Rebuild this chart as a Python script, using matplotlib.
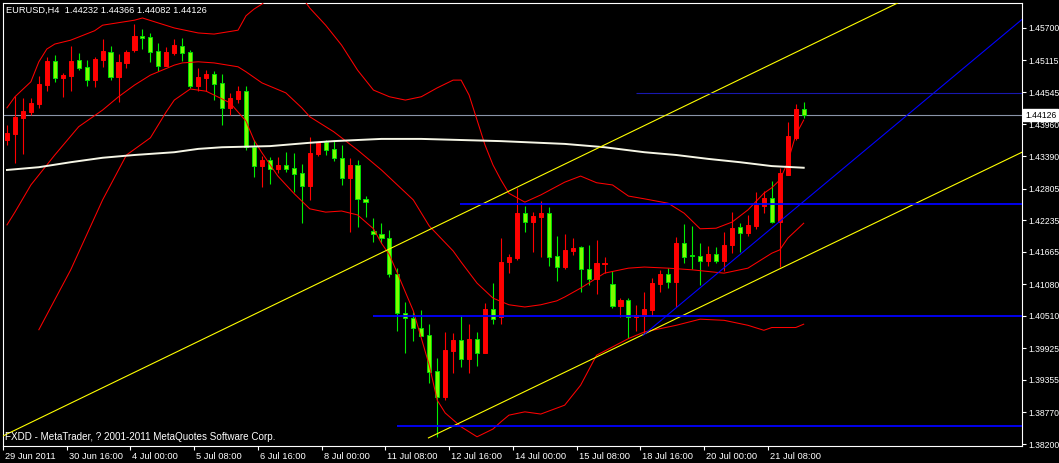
import matplotlib
matplotlib.use("Agg")
import matplotlib.pyplot as plt
import matplotlib.transforms as mtransforms
import numpy as np

# ---------------- data ----------------
header_text = "EURUSD,H4  1.44232 1.44366 1.44082 1.44126"
footer_text = "FXDD - MetaTrader, ? 2001-2011 MetaQuotes Software Corp."

opens = [1.4368, 1.4379, 1.4408, 1.4419, 1.4433, 1.4467, 1.4510, 1.4480, 1.4483, 1.4512,
         1.4500, 1.4476, 1.4512, 1.4527, 1.4482, 1.4507, 1.4530, 1.4556, 1.4554, 1.4528,
         1.4501, 1.4525, 1.4537, 1.4527, 1.4465, 1.4480, 1.4487, 1.4471, 1.4426, 1.4442,
         1.4456, 1.4355, 1.4321, 1.4332, 1.4316, 1.4323, 1.4318, 1.4309, 1.4285, 1.4343,
         1.4364, 1.4352, 1.4336, 1.4300, 1.4323, 1.4262, 1.4204, 1.4199, 1.4191, 1.4126,
         1.4056, 1.4047, 1.4029, 1.4016, 1.3952, 1.3905, 1.3988, 1.4007, 1.3973, 1.4009,
         1.3984, 1.4063, 1.4049, 1.4148, 1.4155, 1.4236, 1.4220, 1.4229, 1.4236, 1.4159,
         1.4139, 1.4168, 1.4175, 1.4135, 1.4117, 1.4144, 1.4108, 1.4069, 1.4080, 1.4049,
         1.4051, 1.4062, 1.4108, 1.4126, 1.4112, 1.4182, 1.4161, 1.4159, 1.4150, 1.4162,
         1.4150, 1.4179, 1.4211, 1.4200, 1.4213, 1.4249, 1.4263, 1.4220, 1.4305, 1.4372,
         1.44232]
highs = [1.4395, 1.4447, 1.4444, 1.4444, 1.4483, 1.4518, 1.4521, 1.4489, 1.4537, 1.4525,
         1.4512, 1.4518, 1.4550, 1.4537, 1.4523, 1.4530, 1.4577, 1.4568, 1.4561, 1.4543,
         1.4536, 1.4550, 1.4552, 1.4530, 1.4498, 1.4494, 1.4492, 1.4487, 1.4453, 1.4465,
         1.4465, 1.4368, 1.4339, 1.4337, 1.4337, 1.4346, 1.4345, 1.4325, 1.4373, 1.4364,
         1.4368, 1.4368, 1.4359, 1.4336, 1.4332, 1.4267, 1.4227, 1.4218, 1.4206, 1.4137,
         1.4076, 1.4058, 1.4062, 1.4036, 1.3975, 1.4022, 1.4020, 1.4052, 1.4036, 1.4022,
         1.4074, 1.4110, 1.4191, 1.4162, 1.4282, 1.4249, 1.4238, 1.4258, 1.4247, 1.4195,
         1.4199, 1.4191, 1.4177, 1.4179, 1.4188, 1.4157, 1.4132, 1.4083, 1.4083, 1.4071,
         1.4094, 1.4119, 1.4134, 1.4137, 1.4193, 1.4217, 1.4213, 1.4182, 1.4177, 1.4175,
         1.4202, 1.4238, 1.4218, 1.4233, 1.4274, 1.4276, 1.4294, 1.4318, 1.4401, 1.4433,
         1.44366]
lows = [1.4359, 1.4327, 1.4343, 1.4413, 1.4426, 1.4456, 1.4473, 1.4446, 1.4456, 1.4494,
        1.4465, 1.4464, 1.4500, 1.4476, 1.4437, 1.4498, 1.4527, 1.4532, 1.4509, 1.4492,
        1.4501, 1.4521, 1.4510, 1.4462, 1.4456, 1.4456, 1.4440, 1.4395, 1.4413, 1.4435,
        1.4350, 1.4301, 1.4283, 1.4289, 1.4309, 1.4310, 1.4274, 1.4218, 1.4260, 1.4339,
        1.4341, 1.4330, 1.4287, 1.4202, 1.4211, 1.4229, 1.4184, 1.4182, 1.4121, 1.4024,
        1.3984, 1.4006, 1.4015, 1.3930, 1.3833, 1.3899, 1.3948, 1.3959, 1.3948, 1.3961,
        1.3984, 1.4036, 1.4036, 1.4128, 1.4152, 1.4202, 1.4166, 1.4157, 1.4141, 1.4114,
        1.4135, 1.4161, 1.4094, 1.4107, 1.4090, 1.4128, 1.4065, 1.4049, 1.4011, 1.4024,
        1.4020, 1.4051, 1.4094, 1.4101, 1.4067, 1.4146, 1.4135, 1.4107, 1.4141, 1.4146,
        1.4132, 1.4164, 1.4166, 1.4195, 1.4208, 1.4236, 1.4218, 1.4139, 1.4305, 1.4368,
        1.44082]
closes = [1.4381, 1.4410, 1.4420, 1.4435, 1.4469, 1.4510, 1.4480, 1.4485, 1.4510, 1.4498,
          1.4476, 1.4514, 1.4528, 1.4482, 1.4509, 1.4527, 1.4556, 1.4552, 1.4527, 1.4501,
          1.4527, 1.4539, 1.4525, 1.4465, 1.4482, 1.4487, 1.4469, 1.4426, 1.4444, 1.4456,
          1.4355, 1.4321, 1.4332, 1.4316, 1.4323, 1.4316, 1.4307, 1.4285, 1.4345, 1.4364,
          1.4350, 1.4336, 1.4300, 1.4323, 1.4262, 1.4256, 1.4199, 1.4191, 1.4126, 1.4056,
          1.4047, 1.4029, 1.4015, 1.3950, 1.3905, 1.3989, 1.4007, 1.3973, 1.4009, 1.3984,
          1.4063, 1.4045, 1.4148, 1.4157, 1.4236, 1.4220, 1.4231, 1.4236, 1.4157, 1.4139,
          1.4170, 1.4173, 1.4135, 1.4117, 1.4146, 1.4146, 1.4069, 1.4080, 1.4049, 1.4052,
          1.4063, 1.4110, 1.4126, 1.4112, 1.4182, 1.4157, 1.4159, 1.4150, 1.4162, 1.4150,
          1.4179, 1.4209, 1.4200, 1.4215, 1.4251, 1.4263, 1.4220, 1.4309, 1.4375, 1.4424,
          1.44126]

time_label_bars = [0, 8, 16, 24, 32, 40, 48, 56, 64, 72, 80, 88, 96]
time_labels = ["29 Jun 2011", "30 Jun 16:00", "4 Jul 00:00", "5 Jul 08:00", "6 Jul 16:00",
               "8 Jul 00:00", "11 Jul 08:00", "12 Jul 16:00", "14 Jul 00:00", "15 Jul 08:00",
               "18 Jul 16:00", "20 Jul 00:00", "21 Jul 08:00"]

price_ticks = [1.45700, 1.45115, 1.44545, 1.43960, 1.43390, 1.42805, 1.42235,
               1.41665, 1.41080, 1.40510, 1.39925, 1.39355, 1.38770, 1.38200]

# Bollinger bands
bb_upper_bars = [0, 1, 3, 4, 5, 6, 8, 11, 12, 16, 17, 19, 21, 24, 26, 29, 30, 31, 32, 33,
                 34, 35, 36, 37, 38, 40, 42, 44, 46, 48, 50, 52, 54, 56, 57, 58, 59, 60, 61,
                 62, 63, 65, 67, 70, 72, 74, 76, 78, 80, 83, 85, 87, 89, 91, 93, 95, 96, 97,
                 98, 99, 100]
bb_upper = [1.4426, 1.4446, 1.4473, 1.4509, 1.4532, 1.4541, 1.4548, 1.4565, 1.4575, 1.4584,
            1.4588, 1.4579, 1.4570, 1.4561, 1.4559, 1.4566, 1.4592, 1.4604, 1.4613, 1.4626,
            1.4635, 1.4639, 1.4635, 1.4626, 1.4606, 1.4575, 1.4539, 1.4494, 1.4458, 1.4446,
            1.4440, 1.4446, 1.4462, 1.4476, 1.4476, 1.4449, 1.4404, 1.4359, 1.4323,
            1.4296, 1.4272, 1.4256, 1.4269, 1.4292, 1.4303, 1.4291, 1.4287, 1.4267, 1.4262,
            1.4254, 1.4236, 1.4208, 1.4209, 1.4220, 1.4242, 1.4272, 1.4282, 1.4296,
            1.4328, 1.4377, 1.4404]

bb_middle_bars = [0, 1, 3, 6, 9, 12, 14, 16, 18, 21, 22, 24, 26, 29, 30, 32, 35, 37, 38, 40,
                  41, 44, 47, 51, 53, 56, 57, 59, 61, 63, 65, 67, 69, 70, 72, 74, 75, 78, 80,
                  83, 86, 90, 93, 96, 97, 98, 100]
bb_middle = [1.4215, 1.4238, 1.4287, 1.4341, 1.4392, 1.4422, 1.4446, 1.4467, 1.4485, 1.4503,
             1.4507, 1.4509, 1.4507, 1.4500, 1.4491, 1.4471, 1.4453, 1.4426, 1.4410, 1.4392,
             1.4383, 1.4350, 1.4314, 1.4260, 1.4213, 1.4168, 1.4148, 1.4110, 1.4083, 1.4071,
             1.4067, 1.4071, 1.4078, 1.4085, 1.4101, 1.4119, 1.4128, 1.4137, 1.4139,
             1.4137, 1.4134, 1.4128, 1.4137, 1.4164, 1.4170, 1.4191, 1.4218]

bb_lower_bars = [4, 6, 8, 10, 12, 13, 15, 18, 20, 21, 23, 25, 28, 30, 31, 32, 34, 36, 38, 40,
                 42, 44, 46, 47, 48, 49, 51, 53, 54, 55, 57, 59, 61, 62, 63, 65, 67, 70, 72,
                 74, 76, 78, 80, 84, 87, 90, 93, 95, 96, 99, 100]
bb_lower = [1.4026, 1.4080, 1.4134, 1.4197, 1.4260, 1.4287, 1.4341, 1.4372, 1.4419, 1.4440,
            1.4460, 1.4456, 1.4435, 1.4402, 1.4368, 1.4345, 1.4303, 1.4272, 1.4244, 1.4238,
            1.4240, 1.4233, 1.4208, 1.4182, 1.4161, 1.4128, 1.4060, 1.3962, 1.3899, 1.3876,
            1.3851, 1.3833, 1.3847, 1.3860, 1.3872, 1.3878, 1.3874, 1.3890, 1.3926,
            1.3980, 1.3995, 1.4010, 1.4022, 1.4034, 1.4045, 1.4043, 1.4034, 1.4025, 1.4030,
            1.4030, 1.4036]

# long moving average (white)
ma_bars = [0, 4, 8, 12, 16, 21, 24, 27, 33, 38, 41, 47, 52, 57, 62, 70, 75, 80, 84, 88, 92, 96, 100]
ma_vals = [1.4314, 1.4319, 1.4328, 1.4336, 1.4341, 1.4346, 1.4352, 1.4355, 1.4357, 1.4363,
           1.4366, 1.4370, 1.4370, 1.4368, 1.4366, 1.4361, 1.4355, 1.4346, 1.4341, 1.4334,
           1.4328, 1.4321, 1.4318]

# drawn objects: (bar, price) anchors
channel_upper = [(0.0, 1.3838), (111.8, 1.4615)]
channel_lower = [(52.9, 1.3831), (127.4, 1.4346)]
support_ray = [(79.85, 1.4016), (127.2, 1.4583)]
blue_levels = [1.4253, 1.4051, 1.3852]
blue_level_start = [56.9, 45.9, 48.9]
navy_level = 1.4453
navy_level_start = 79.0
bid_price = 1.44126

# ---------------- figure ----------------
FONT = "Liberation Sans"
FS = 6.7
FS_Y = 6.2
W, H = 1059, 463
fig = plt.figure(figsize=(W / 100, H / 100), dpi=100, facecolor="black")
ax = fig.add_axes([3 / W, 17 / H, 1019 / W, 443 / H])
ax.set_facecolor("black")
XMAX = 127.4
ax.set_xlim(-0.125, XMAX)
ax.set_ylim(1.38164, 1.4615)

o = np.array(opens); h = np.array(highs); l = np.array(lows); c = np.array(closes)
x = np.arange(len(o))
up = c >= o
dn = ~up

# wicks
ax.vlines(x[up], l[up], h[up], color="#ff0000", lw=0.8, zorder=3)
ax.vlines(x[dn], l[dn], h[dn], color="#00ee00", lw=0.8, zorder=3)
# bodies
ax.bar(x[up], (c - o)[up], bottom=o[up], width=0.52, color="#ff0000",
       edgecolor="#ff0000", linewidth=0.7, zorder=3.2)
ax.bar(x[dn], (o - c)[dn], bottom=c[dn], width=0.52, color="#7cfc00",
       edgecolor="#00dd00", linewidth=0.7, zorder=3.2)

# bid line
ax.axhline(bid_price, color="#8a94a8", lw=0.8, zorder=2)

# indicators
ax.plot(bb_upper_bars, bb_upper, color="#ff0000", lw=0.75, zorder=4)
ax.plot(bb_middle_bars, bb_middle, color="#ff0000", lw=0.75, zorder=4)
ax.plot(bb_lower_bars, bb_lower, color="#ff0000", lw=0.75, zorder=4)
ax.plot(ma_bars, ma_vals, color="#f6f6e6", lw=1.4, zorder=4)

# objects
ax.axline(channel_upper[0], channel_upper[1], color="#ffff00", lw=0.8, zorder=5)

def ray(pts, **kw):
    (x0, y0), (x1, y1) = pts
    s = (y1 - y0) / (x1 - x0)
    xe = XMAX + 5
    ax.plot([x0, xe], [y0, y0 + s * (xe - x0)], **kw)

ray(channel_lower, color="#ffff00", lw=0.8, zorder=5)
ray(support_ray, color="#0000ff", lw=0.8, zorder=5)
for lv, st in zip(blue_levels, blue_level_start):
    ax.hlines(lv, st, XMAX + 5, color="#0000ff", lw=1.3, zorder=5)
ax.hlines(navy_level, navy_level_start, XMAX + 5, color="#1818b0", lw=0.8, zorder=5)

# axes styling
for sp in ax.spines.values():
    sp.set_color("white")
    sp.set_linewidth(0.8)

ax.yaxis.tick_right()
ax.set_yticks(price_ticks)
ax.set_yticklabels([f"{v:.5f}" for v in price_ticks], fontfamily=FONT, fontsize=FS_Y)
ax.tick_params(axis="y", direction="out", length=3, width=0.8, color="white",
               labelcolor="white", pad=1.5)

ax.set_xticks([b - 0.5 for b in time_label_bars])
ax.set_xticklabels(time_labels, fontfamily=FONT, fontsize=FS, ha="left")
ax.tick_params(axis="x", direction="out", length=3, width=0.8, color="white",
               labelcolor="white", pad=1.5)
off = mtransforms.ScaledTranslation(2 / 100, 0, fig.dpi_scale_trans)
for lab in ax.get_xticklabels():
    lab.set_transform(lab.get_transform() + off)

# current price box
trans = mtransforms.blended_transform_factory(ax.transAxes, ax.transData)
ax.text(1.0 + 3 / 1019, bid_price, f"{bid_price:.5f}", transform=trans, ha="left",
        va="center", color="black", fontfamily=FONT, fontsize=FS_Y, clip_on=False,
        bbox=dict(boxstyle="square,pad=0.2", fc="white", ec="white"), zorder=10)

# texts
fig.text(6 / W, 1 - 10 / H, header_text, color="white", fontfamily=FONT, fontsize=FS,
         ha="left", va="center")
fig.text(5 / W, 1 - 437 / H, footer_text, color="white", fontfamily=FONT, fontsize=7.1,
         ha="left", va="center", zorder=10)

fig.savefig("out.png", dpi=100, facecolor="black")
